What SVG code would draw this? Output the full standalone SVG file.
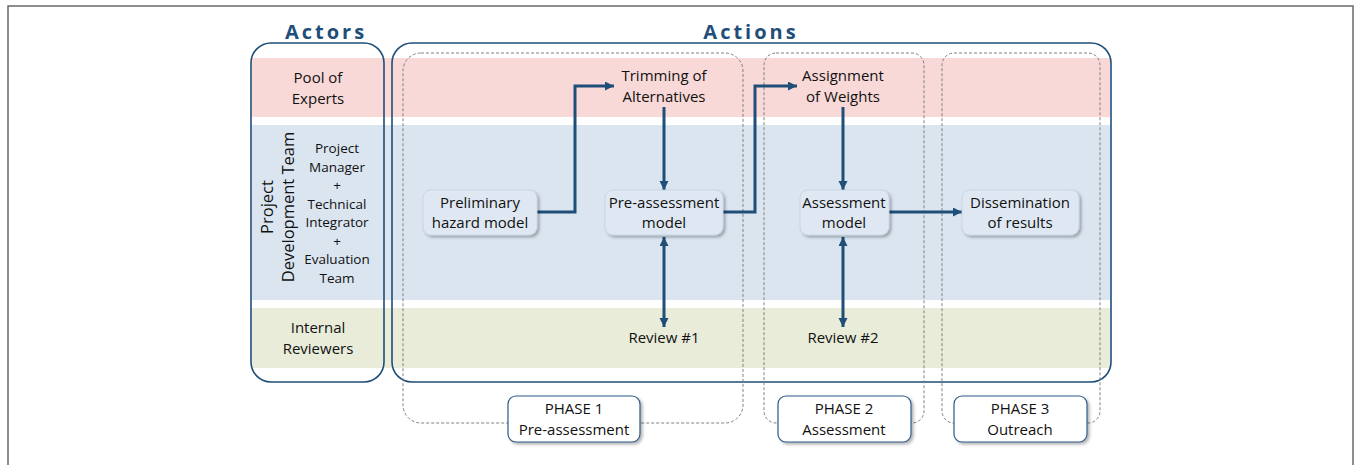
<svg xmlns="http://www.w3.org/2000/svg" width="1356" height="465" viewBox="0 0 1356 465">
<defs>
<style>
.t{font-family:"Open Sans","Liberation Sans",sans-serif;font-size:15px;fill:#111111;text-anchor:middle}
.s{font-family:"Open Sans","Liberation Sans",sans-serif;font-size:13.5px;fill:#111111;text-anchor:middle}
.title{font-family:"Open Sans","Liberation Sans",sans-serif;font-size:20px;font-weight:bold;fill:#1f4e79;text-anchor:middle;letter-spacing:3px}
.big{font-family:"Open Sans","Liberation Sans",sans-serif;font-size:16.5px;fill:#111111;text-anchor:middle}
.lane{fill:none;stroke:#1f4e79;stroke-width:1.6}
.phase{fill:none;stroke:#808080;stroke-width:1;stroke-dasharray:3,2}
.node{fill:#dfe8f2;stroke:#c5d2e0;stroke-width:0.8}
.plabel{fill:#ffffff;stroke:#2f5a84;stroke-width:1.2}
.conn{fill:none;stroke:#1f4e79;stroke-width:3}
</style>
<marker id="ah" markerUnits="userSpaceOnUse" markerWidth="12" markerHeight="10" refX="9" refY="4.5" orient="auto-start-reverse">
<path d="M0,0 L9,4.5 L0,9 Z" fill="#1f4e79"/>
</marker>
<filter id="sh" x="-20%" y="-20%" width="150%" height="160%">
<feDropShadow dx="2" dy="2" stdDeviation="1.5" flood-color="#000000" flood-opacity="0.3"/>
</filter>
</defs>
<rect x="0" y="0" width="1356" height="465" fill="#ffffff"/>
<path d="M8,465 L8,6 L1353,6 L1353,465" fill="none" stroke="#6a6a6a" stroke-width="1.5"/>

<g id="bands">
<rect x="252" y="58" width="858" height="59" fill="#f8d9d8"/>
<rect x="252" y="125" width="858" height="175" fill="#dae5f0"/>
<rect x="252" y="308" width="858" height="60" fill="#e8ecd9"/>
</g>

<g id="titles">
<text class="title" x="326" y="39">Actors</text>
<text class="title" x="751" y="39">Actions</text>
</g>

<g id="actors-lane">
<rect class="lane" x="251" y="43" width="133" height="339" rx="20"/>
<text class="t" x="318" y="83">Pool of</text>
<text class="t" x="318" y="104">Experts</text>
<text class="big" transform="translate(273,207) rotate(-90)">Project</text>
<text class="big" transform="translate(294,207) rotate(-90)">Development Team</text>
<text class="s" x="337" y="153">Project</text>
<text class="s" x="337" y="171.6">Manager</text>
<text class="s" x="337" y="190.1">+</text>
<text class="s" x="337" y="208.7">Technical</text>
<text class="s" x="337" y="227.3">Integrator</text>
<text class="s" x="337" y="245.9">+</text>
<text class="s" x="337" y="264.4">Evaluation</text>
<text class="s" x="337" y="283">Team</text>
<text class="t" x="318" y="333">Internal</text>
<text class="t" x="318" y="354">Reviewers</text>
</g>

<g id="actions-lane">
<rect class="lane" x="392" y="43" width="719" height="339" rx="20"/>
</g>

<g id="phases">
<rect class="phase" x="403" y="53" width="340" height="370" rx="18"/>
<rect class="phase" x="764" y="53" width="160" height="370" rx="12"/>
<rect class="phase" x="942" y="53" width="158" height="370" rx="12"/>
</g>

<g id="connectors">
<path class="conn" d="M537,212 L575,212 L575,86 L614,86" marker-end="url(#ah)"/>
<path class="conn" d="M723,212 L755,212 L755,86 L797,86" marker-end="url(#ah)"/>
<path class="conn" d="M664,107 L664,190" marker-end="url(#ah)"/>
<path class="conn" d="M843,107 L843,190" marker-end="url(#ah)"/>
<path class="conn" d="M664,237 L664,327" marker-start="url(#ah)" marker-end="url(#ah)"/>
<path class="conn" d="M843,237 L843,327" marker-start="url(#ah)" marker-end="url(#ah)"/>
<path class="conn" d="M889,212 L962,212" marker-end="url(#ah)"/>
</g>

<g id="trimming">
<text class="t" x="664" y="81">Trimming of</text>
<text class="t" x="664" y="102">Alternatives</text>
</g>
<g id="assignment">
<text class="t" x="843" y="81">Assignment</text>
<text class="t" x="843" y="102">of Weights</text>
</g>
<g id="preliminary">
<rect class="node" x="423" y="190" width="114" height="45" rx="8" filter="url(#sh)"/>
<text class="t" x="480" y="208">Preliminary</text>
<text class="t" x="480" y="228">hazard model</text>
</g>
<g id="preassessment">
<rect class="node" x="605" y="190" width="118" height="45" rx="8" filter="url(#sh)"/>
<text class="t" x="664" y="208">Pre-assessment</text>
<text class="t" x="664" y="228">model</text>
</g>
<g id="assessment">
<rect class="node" x="800" y="190" width="89" height="45" rx="8" filter="url(#sh)"/>
<text class="t" x="844" y="208">Assessment</text>
<text class="t" x="844" y="228">model</text>
</g>
<g id="dissemination">
<rect class="node" x="962" y="190" width="117" height="45" rx="8" filter="url(#sh)"/>
<text class="t" x="1020" y="208">Dissemination</text>
<text class="t" x="1020" y="228">of results</text>
</g>
<g id="review1">
<text class="t" x="664" y="343">Review #1</text>
</g>
<g id="review2">
<text class="t" x="843" y="343">Review #2</text>
</g>

<g id="phase1">
<rect class="plabel" x="508" y="396" width="132" height="46" rx="8" filter="url(#sh)"/>
<text class="t" x="574" y="414">PHASE 1</text>
<text class="t" x="574" y="435">Pre-assessment</text>
</g>
<g id="phase2">
<rect class="plabel" x="778" y="396" width="133" height="46" rx="8" filter="url(#sh)"/>
<text class="t" x="844" y="414">PHASE 2</text>
<text class="t" x="844" y="435">Assessment</text>
</g>
<g id="phase3">
<rect class="plabel" x="954" y="396" width="133" height="46" rx="8" filter="url(#sh)"/>
<text class="t" x="1020" y="414">PHASE 3</text>
<text class="t" x="1020" y="435">Outreach</text>
</g>
</svg>
